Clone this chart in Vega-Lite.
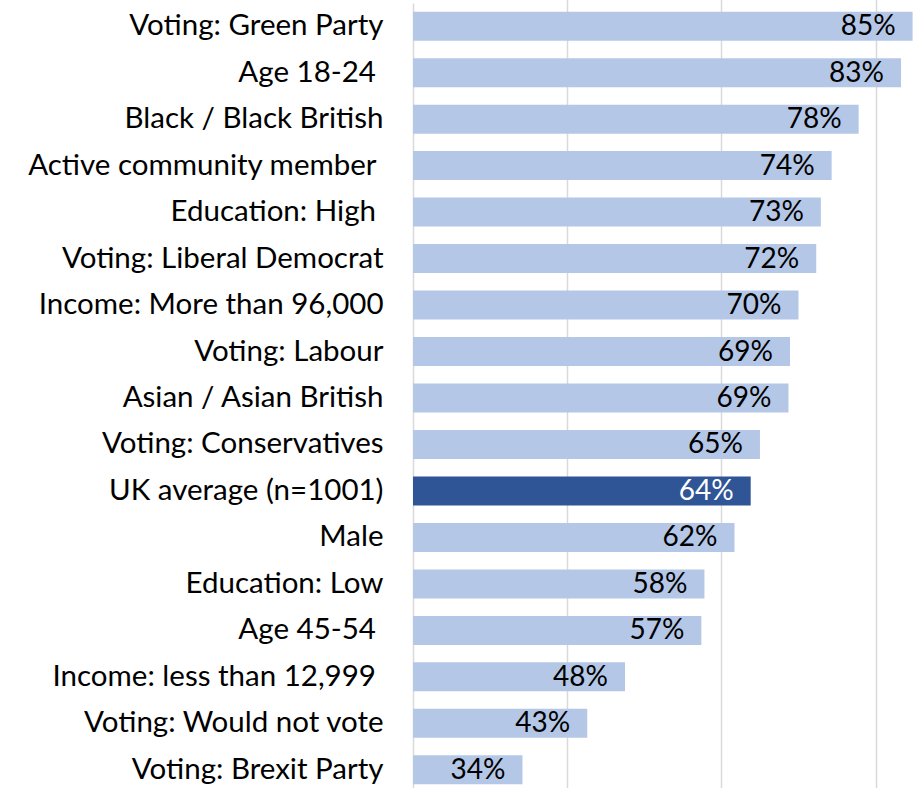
{
  "$schema": "https://vega.github.io/schema/vega-lite/v6.json",
  "width": 507,
  "height": 785,
  "autosize": {"type": "none"},
  "padding": {"left": 413, "top": 3, "right": 0, "bottom": 0},
  "background": "white",
  "config": {"view": {"stroke": null}, "font": "Lato"},
  "data": {"values": [
    {"group": "Voting: Green Party", "value": 0.848, "label": "85%", "kind": "other"},
    {"group": "Age 18-24\u00a0\u200b", "value": 0.833, "label": "83%", "kind": "other"},
    {"group": "Black / Black British", "value": 0.778, "label": "78%", "kind": "other"},
    {"group": "Active community member\u00a0\u200b", "value": 0.743, "label": "74%", "kind": "other"},
    {"group": "Education: High\u00a0\u200b", "value": 0.729, "label": "73%", "kind": "other"},
    {"group": "Voting: Liberal Democrat", "value": 0.723, "label": "72%", "kind": "other"},
    {"group": "Income: More than 96,000", "value": 0.700, "label": "70%", "kind": "other"},
    {"group": "Voting: Labour", "value": 0.689, "label": "69%", "kind": "other"},
    {"group": "Asian / Asian British", "value": 0.687, "label": "69%", "kind": "other"},
    {"group": "Voting: Conservatives", "value": 0.650, "label": "65%", "kind": "other"},
    {"group": "UK average (n=1001)", "value": 0.638, "label": "64%", "kind": "average"},
    {"group": "Male", "value": 0.617, "label": "62%", "kind": "other"},
    {"group": "Education: Low", "value": 0.578, "label": "58%", "kind": "other"},
    {"group": "Age 45-54\u00a0\u200b", "value": 0.574, "label": "57%", "kind": "other"},
    {"group": "Income: less than 12,999\u00a0\u200b", "value": 0.475, "label": "48%", "kind": "other"},
    {"group": "Voting: Would not vote", "value": 0.426, "label": "43%", "kind": "other"},
    {"group": "Voting: Brexit Party", "value": 0.342, "label": "34%", "kind": "other"}
  ]},
  "encoding": {
    "y": {
      "field": "group", "type": "nominal", "sort": null,
      "scale": {"range": [0, 790], "paddingInner": 0.376, "paddingOuter": 0.187},
      "axis": {
        "title": null, "ticks": false, "labelFontSize": 29.5, "labelColor": "#000000",
        "labelPadding": 30, "labelLimit": 500, "labelFont": "Lato",
        "domainColor": "#D9D9D9", "domainWidth": 1.5
      }
    }
  },
  "layer": [
    {
      "mark": {"type": "bar"},
      "encoding": {
        "x": {
          "field": "value", "type": "quantitative",
          "scale": {"domain": [0.2, 0.8576], "zero": false, "nice": false},
          "axis": {
            "title": null, "labels": false, "ticks": false, "domain": false,
            "values": [0.4, 0.6, 0.8], "gridColor": "#D9D9D9", "gridWidth": 1.5
          }
        },
        "x2": {"datum": 0.2},
        "color": {
          "field": "kind", "type": "nominal",
          "scale": {"domain": ["other", "average"], "range": ["#B4C7E7", "#2F5597"]},
          "legend": null
        }
      }
    },
    {
      "mark": {"type": "text", "align": "right", "baseline": "middle", "dx": -17, "dy": 1, "fontSize": 28, "font": "Lato"},
      "encoding": {
        "x": {"field": "value", "type": "quantitative"},
        "text": {"field": "label", "type": "nominal"},
        "color": {
          "field": "kind", "type": "nominal",
          "scale": {"domain": ["other", "average"], "range": ["#000000", "#FFFFFF"]},
          "legend": null
        }
      }
    }
  ],
  "resolve": {"scale": {"color": "independent"}}
}
